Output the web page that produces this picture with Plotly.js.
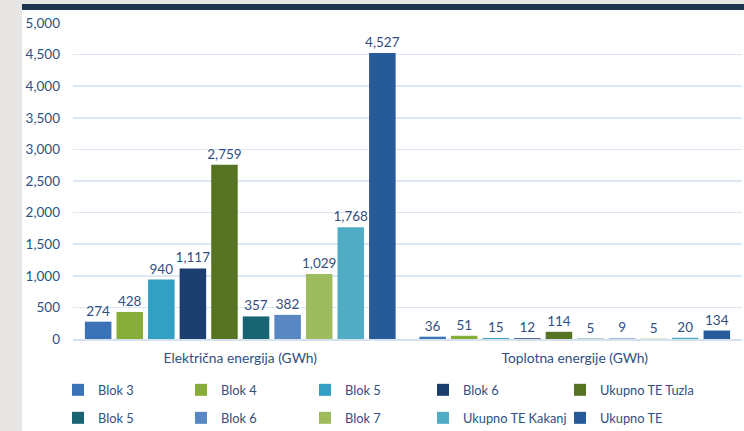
<!DOCTYPE html>
<html>
<head>
<meta charset="utf-8">
<script src="https://cdn.plot.ly/plotly-3.0.1.min.js"></script>
<style>
  html, body { margin: 0; padding: 0; width: 744px; height: 431px; overflow: hidden; background: #e7e6e4; }
  #band { position: absolute; left: 22px; top: 4px; width: 722px; height: 6px; background: #1d3650; }
  #chart { position: absolute; left: 22px; top: 10px; width: 722px; height: 421px; background: #ffffff; }
</style>
</head>
<body>
<div id="band"></div>
<div id="chart"></div>
<script>
// Categories (x axis)
const categories = ["Električna energija (GWh)", "Toplotna energije (GWh)"];

// Series names (legend)
const seriesNames = ["Blok 3", "Blok 4", "Blok 5", "Blok 6", "Ukupno TE Tuzla",
                     "Blok 5", "Blok 6", "Blok 7", "Ukupno TE Kakanj", "Ukupno TE"];

// Series values: [Električna, Toplotna]
const blok3Tuzla   = [274, 36];
const blok4Tuzla   = [428, 51];
const blok5Tuzla   = [940, 15];
const blok6Tuzla   = [1117, 12];
const ukupnoTuzla  = [2759, 114];
const blok5Kakanj  = [357, 5];
const blok6Kakanj  = [382, 9];
const blok7Kakanj  = [1029, 5];
const ukupnoKakanj = [1768, 20];
const ukupnoTE     = [4527, 134];

const seriesValues = [blok3Tuzla, blok4Tuzla, blok5Tuzla, blok6Tuzla, ukupnoTuzla,
                      blok5Kakanj, blok6Kakanj, blok7Kakanj, ukupnoKakanj, ukupnoTE];

// Y tick labels
const yTickVals = [0, 500, 1000, 1500, 2000, 2500, 3000, 3500, 4000, 4500, 5000];
const yTickText = ["0", "500", "1,000", "1,500", "2,000", "2,500", "3,000", "3,500", "4,000", "4,500", "5,000"];

const colors = ["#3a72b8", "#87ad38", "#32a0c2", "#1c3e6f", "#577424",
                "#186473", "#5987c4", "#9ebc5e", "#50acc4", "#265a99"];

const textColor = "#2f5081";
const fontFam = "Lato, 'Noto Sans', sans-serif";

const W = 722, H = 421;
// legend grid (5 columns x 2 rows), in container pixels
const legendColX = [36, 159, 283, 401, 538];
const legendRowY = [380, 408];

const traces = seriesNames.map((name, i) => ({
  type: "bar",
  name: name,
  x: categories,
  y: seriesValues[i],
  marker: { color: colors[i] },
  texttemplate: "%{y:,}",
  textposition: "outside",
  constraintext: "none",
  cliponaxis: false,
  textfont: { color: textColor, size: 13.5, family: fontFam },
  legend: i === 0 ? "legend" : "legend" + (i + 1),
  hoverinfo: "skip"
}));

const layout = {
  width: W, height: H,
  margin: { l: 51, r: 2, t: 13, b: 92 },
  paper_bgcolor: "#ffffff",
  plot_bgcolor: "#ffffff",
  font: { family: fontFam, color: textColor, size: 13 },
  barmode: "group",
  bargap: 0.056,
  bargroupgap: 0.16,
  showlegend: true,
  xaxis: {
    type: "category",
    showgrid: false,
    showline: true,
    linecolor: "#d6e1ee",
    linewidth: 1.5,
    ticks: "",
    ticklabelstandoff: 6,
    tickfont: { color: textColor, size: 13.8, family: fontFam }
  },
  yaxis: {
    range: [0, 5000],
    tickvals: yTickVals,
    ticktext: yTickText,
    showgrid: true,
    gridcolor: "#dde7f3",
    gridwidth: 1.5,
    zeroline: false,
    showline: false,
    ticks: "",
    ticklabelstandoff: 12,
    tickfont: { color: textColor, size: 13.5, family: fontFam }
  }
};

seriesNames.forEach((n, i) => {
  const key = i === 0 ? "legend" : "legend" + (i + 1);
  layout[key] = {
    orientation: "h",
    xref: "container", yref: "container",
    xanchor: "left", yanchor: "middle",
    x: legendColX[i % 5] / W,
    y: (H - legendRowY[Math.floor(i / 5)]) / H,
    font: { color: textColor, size: 12.8, family: fontFam },
    bgcolor: "rgba(0,0,0,0)"
  };
});

Plotly.newPlot("chart", traces, layout, { displayModeBar: false, staticPlot: true });
</script>
</body>
</html>
